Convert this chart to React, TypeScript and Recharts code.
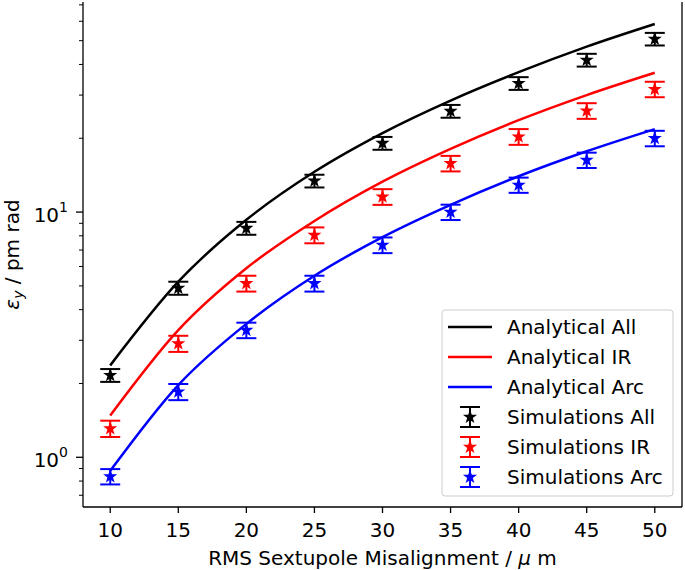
import React from "react";
import { ComposedChart, Line, Scatter, ErrorBar, XAxis, YAxis } from "recharts";

// RMS sextupole misalignment (µm)
const misalign = [10, 15, 20, 25, 30, 35, 40, 45, 50];

// analytical curves (pm rad)
const analyticAll = [2.37, 5.2, 9.3, 14.6, 21.0, 28.5, 37.2, 47.3, 58.5];
const analyticIR = [1.48, 3.3, 5.9, 9.2, 13.3, 18.1, 23.7, 30.0, 37.0];
const analyticArc = [0.88, 1.97, 3.5, 5.5, 7.9, 10.7, 14.0, 17.7, 21.8];

// simulations with error bars (pm rad)
const simAll = [2.16, 4.9, 8.6, 13.4, 19.1, 25.8, 33.5, 41.7, 50.8];
const simAllErr = [0.13, 0.3, 0.52, 0.8, 1.15, 1.55, 2.0, 2.5, 3.0];
const simIR = [1.31, 2.91, 5.12, 8.06, 11.55, 15.8, 20.3, 25.9, 31.7];
const simIRErr = [0.1, 0.22, 0.38, 0.6, 0.85, 1.15, 1.5, 1.9, 2.3];
const simArc = [0.835, 1.85, 3.3, 5.12, 7.34, 10.0, 12.9, 16.3, 20.0];
const simArcErr = [0.06, 0.14, 0.24, 0.38, 0.54, 0.72, 0.92, 1.17, 1.45];

const yTicks = [
  0.7, 0.8, 0.9, 1, 2, 3, 4, 5, 6, 7, 8, 9, 10, 20, 30, 40, 50, 60, 70,
];

const legendLabels = [
  "Analytical All",
  "Analytical IR",
  "Analytical Arc",
  "Simulations All",
  "Simulations IR",
  "Simulations Arc",
];
const legendColors = ["#000000", "#ff0000", "#0000ff", "#000000", "#ff0000", "#0000ff"];

const rows = misalign.map((x, i) => ({
  x,
  anAll: analyticAll[i],
  anIR: analyticIR[i],
  anArc: analyticArc[i],
  simAll: simAll[i],
  simAllErr: simAllErr[i],
  simIR: simIR[i],
  simIRErr: simIRErr[i],
  simArc: simArc[i],
  simArcErr: simArcErr[i],
}));

const FONT = "DejaVu Sans";
const FS = 20;

function starPath(cx: number, cy: number, R: number, r: number) {
  let d = "";
  for (let k = 0; k < 10; k++) {
    const rad = k % 2 === 0 ? R : r;
    const a = -Math.PI / 2 + (k * Math.PI) / 5;
    d += (k === 0 ? "M" : "L") + (cx + rad * Math.cos(a)).toFixed(2) + "," + (cy + rad * Math.sin(a)).toFixed(2);
  }
  return d + "Z";
}

function Star({ cx, cy, color }: { cx: number; cy: number; color: string }) {
  if (cx == null || cy == null) return null;
  return <path d={starPath(cx, cy, 5, 2)} fill={color} stroke={color} strokeWidth={1.6} strokeLinejoin="miter" />;
}

function XTick(props: any) {
  const { x, y, payload } = props;
  return (
    <g>
      <line x1={x} x2={x} y1={y} y2={y + 6} stroke="#000" strokeWidth={1.3} />
      <text x={x} y={y + 30} textAnchor="middle" fontSize={FS} fontFamily={FONT} fill="#000">
        {payload.value}
      </text>
    </g>
  );
}

function YTick(props: any) {
  const { x, y, payload } = props;
  const e = Math.log10(payload.value);
  const major = Math.abs(e - Math.round(e)) < 1e-6;
  return (
    <g>
      <line x1={x} x2={x - (major ? 7 : 4)} y1={y} y2={y} stroke="#000" strokeWidth={major ? 1.3 : 1} />
      {major && (
        <text x={x - 15} y={y + 10} textAnchor="end" fontSize={FS} fontFamily={FONT} fill="#000">
          10
          <tspan dy={-10} fontSize={14}>
            {Math.round(e)}
          </tspan>
        </text>
      )}
    </g>
  );
}

function YLabel(props: any) {
  const { viewBox } = props;
  const cx = viewBox.x + 19;
  const cy = viewBox.y + viewBox.height / 2;
  return (
    <text
      x={cx}
      y={cy}
      transform={`rotate(-90 ${cx} ${cy})`}
      textAnchor="middle"
      fontSize={FS}
      fontFamily={FONT}
      fill="#000"
    >
      <tspan fontStyle="italic">ε</tspan>
      <tspan fontStyle="italic" fontSize={14} dy={4}>
        y
      </tspan>
      <tspan dy={-4}> / pm rad</tspan>
    </text>
  );
}

function XLabel(props: any) {
  const { viewBox } = props;
  const cx = viewBox.x + viewBox.width / 2;
  return (
    <text x={cx} y={565} textAnchor="middle" fontSize={FS} fontFamily={FONT} fill="#000">
      RMS Sextupole Misalignment / <tspan fontStyle="italic">μ</tspan> m
    </text>
  );
}

function LegendBox() {
  return (
    <svg width={234} height={189} style={{ position: "absolute", left: 441, top: 309 }}>
      <rect x={1} y={1} width={231} height={186} rx={3} fill="#fff" fillOpacity={0.8} stroke="#cccccc" strokeWidth={1} />
      {legendLabels.map((label, i) => {
        const cy = 18 + i * 30;
        const c = legendColors[i];
        return (
          <g key={label}>
            {i < 3 ? (
              <line x1={7} x2={51} y1={cy} y2={cy} stroke={c} strokeWidth={2.5} />
            ) : (
              <g>
                <line x1={29} x2={29} y1={cy - 10} y2={cy + 10} stroke={c} strokeWidth={2} />
                <line x1={19} x2={39} y1={cy - 10} y2={cy - 10} stroke={c} strokeWidth={2} />
                <line x1={19} x2={39} y1={cy + 10} y2={cy + 10} stroke={c} strokeWidth={2} />
                <Star cx={29} cy={cy} color={c} />
              </g>
            )}
            <text x={66} y={cy + 7} fontSize={FS} fontFamily={FONT} fill="#000">
              {label}
            </text>
          </g>
        );
      })}
    </svg>
  );
}

export default function App() {
  return (
    <div style={{ position: "absolute", left: 0, top: 0, width: 685, height: 570, background: "#fff" }}>
      <ComposedChart width={685} height={570} data={rows} margin={{ top: 2, right: 2, bottom: 0, left: 0 }}>
        <XAxis
          dataKey="x"
          type="number"
          domain={[8, 52]}
          ticks={misalign}
          interval={0}
          allowDataOverflow
          height={63}
          tickSize={0}
          tickMargin={0}
          tickLine={false}
          axisLine={{ stroke: "#000", strokeWidth: 1.3 }}
          tick={<XTick />}
          label={<XLabel />}
        />
        <XAxis
          xAxisId="top"
          orientation="top"
          dataKey="x"
          type="number"
          domain={[8, 52]}
          height={0}
          tick={false}
          tickLine={false}
          axisLine={{ stroke: "#000", strokeWidth: 1.3 }}
        />
        <YAxis
          type="number"
          scale="log"
          domain={[0.627, 71.9]}
          ticks={yTicks}
          interval={0}
          allowDataOverflow
          width={83}
          tickSize={0}
          tickMargin={0}
          tickLine={false}
          axisLine={{ stroke: "#000", strokeWidth: 1.3 }}
          tick={<YTick />}
          label={<YLabel />}
        />
        <YAxis
          yAxisId="right"
          orientation="right"
          type="number"
          domain={[0, 1]}
          width={1}
          tick={false}
          tickLine={false}
          axisLine={{ stroke: "#000", strokeWidth: 1.3 }}
        />
        <Line dataKey="anAll" type="monotone" stroke="#000000" strokeWidth={2.5} dot={false} isAnimationActive={false} />
        <Line dataKey="anIR" type="monotone" stroke="#ff0000" strokeWidth={2.5} dot={false} isAnimationActive={false} />
        <Line dataKey="anArc" type="monotone" stroke="#0000ff" strokeWidth={2.5} dot={false} isAnimationActive={false} />
        <Scatter
          dataKey="simAll"
          fill="#000000"
          isAnimationActive={false}
          shape={(p: any) => <Star cx={p.cx} cy={p.cy} color="#000000" />}
        >
          <ErrorBar dataKey="simAllErr" direction="y" width={10} stroke="#000000" strokeWidth={2} isAnimationActive={false} />
        </Scatter>
        <Scatter
          dataKey="simIR"
          fill="#ff0000"
          isAnimationActive={false}
          shape={(p: any) => <Star cx={p.cx} cy={p.cy} color="#ff0000" />}
        >
          <ErrorBar dataKey="simIRErr" direction="y" width={10} stroke="#ff0000" strokeWidth={2} isAnimationActive={false} />
        </Scatter>
        <Scatter
          dataKey="simArc"
          fill="#0000ff"
          isAnimationActive={false}
          shape={(p: any) => <Star cx={p.cx} cy={p.cy} color="#0000ff" />}
        >
          <ErrorBar dataKey="simArcErr" direction="y" width={10} stroke="#0000ff" strokeWidth={2} isAnimationActive={false} />
        </Scatter>
      </ComposedChart>
      <LegendBox />
    </div>
  );
}
